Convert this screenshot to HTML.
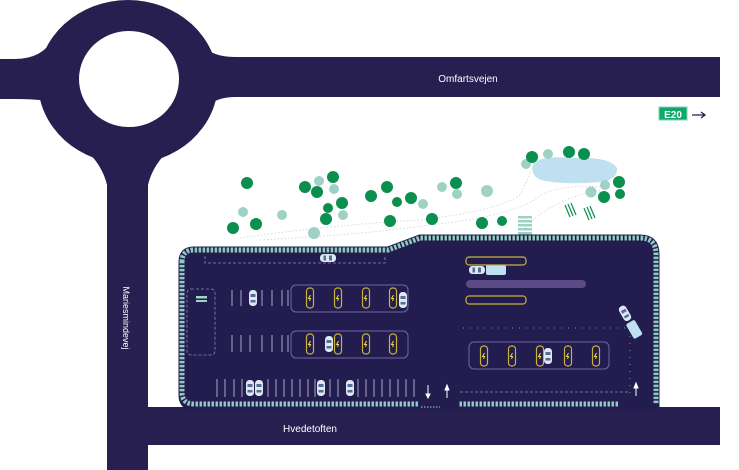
<!DOCTYPE html>
<html><head><meta charset="utf-8"><style>
html,body{margin:0;padding:0;background:#fff;width:739px;height:470px;overflow:hidden}
text{font-family:"Liberation Sans",sans-serif}
</style></head><body>
<svg width="739" height="470" viewBox="0 0 739 470" xmlns="http://www.w3.org/2000/svg">
<defs>
<pattern id="stv" width="4" height="4" patternUnits="userSpaceOnUse"><rect width="4" height="2.5" fill="#9fd2c6"/></pattern>
<g id="car"><rect x="-4" y="-8" width="8" height="16" rx="3.5" fill="#dbe9f3"/><rect x="-2.5" y="-4" width="5" height="3" fill="#5a6a90"/><rect x="-2.5" y="2" width="5" height="2.5" fill="#5a6a90"/></g>
<g id="chg"><rect x="-3.5" y="-10" width="7" height="20" rx="3" fill="none" stroke="#c9b13a" stroke-width="1.2"/><path d="M0.5,-3 L-1.5,0.5 H0.5 L-0.5,3" stroke="#f2dc3a" stroke-width="1" fill="none"/></g>
</defs>
<g fill="#261f50">
<rect x="0" y="59" width="60" height="40"/>
<rect x="190" y="57" width="530" height="40"/>
<rect x="107" y="150" width="41" height="320"/>
<rect x="107" y="407" width="613" height="38"/>
<ellipse cx="128" cy="82" rx="90" ry="82"/>
<path d="M15,59 Q42,59 54,38 L70,70 L60,105 Q50,99 15,99 Z"/>
<path d="M195,35 Q205,57 235,57 L235,97 Q205,97 195,125 Z"/>
<path d="M65,135 Q100,155 107,185 L148,185 Q155,155 190,135 Z"/>
</g>
<ellipse cx="129" cy="79" rx="50" ry="48" fill="#fff"/>
<text x="468" y="82" font-size="10" fill="#fff" text-anchor="middle">Omfartsvejen</text>
<text x="310" y="432" font-size="10" fill="#fff" text-anchor="middle">Hvedetoften</text>
<text transform="translate(123,318) rotate(90)" font-size="9" fill="#fff" text-anchor="middle">Mariesmindevej</text>
<rect x="659" y="107" width="28" height="13" fill="#10a86a" stroke="#7fd6b0" stroke-width="1"/>
<text x="673" y="118" font-size="10" font-weight="bold" fill="#fff" text-anchor="middle">E20</text>
<path d="M692,115 H704 M701,112 L705,115 L701,118" stroke="#261f50" stroke-width="1.3" fill="none"/>
<g stroke="#c8d3d8" stroke-width="0.8" stroke-dasharray="1.5 2" fill="none">
<path d="M240,238 Q330,225 420,220 Q500,210 520,195 Q530,175 535,160"/>
<path d="M260,240 Q360,235 430,225 Q520,215 540,195 Q570,182 610,188"/>
<path d="M525,228 Q550,200 600,190"/>
</g>
<path d="M533,165 Q540,155 570,158 Q610,156 617,168 Q618,180 600,182 Q570,185 545,181 Q530,178 533,165 Z" fill="#bfe0f0"/>
<g fill="#9fd2c6">
<circle cx="243" cy="212" r="5"/><circle cx="282" cy="215" r="5"/><circle cx="319" cy="181" r="5"/><circle cx="334" cy="189" r="5"/><circle cx="343" cy="215" r="5"/><circle cx="314" cy="233" r="6"/><circle cx="423" cy="204" r="5"/><circle cx="442" cy="187" r="5"/><circle cx="457" cy="194" r="5"/><circle cx="487" cy="191" r="6"/><circle cx="526" cy="164" r="5"/><circle cx="548" cy="154" r="5"/><circle cx="591" cy="192" r="5.5"/><circle cx="605" cy="185" r="5"/>
</g>
<g fill="#0a8f4f">
<circle cx="247" cy="183" r="6"/><circle cx="233" cy="228" r="6"/><circle cx="256" cy="224" r="6"/><circle cx="305" cy="187" r="6"/><circle cx="317" cy="192" r="6"/><circle cx="333" cy="177" r="6"/><circle cx="342" cy="203" r="6"/><circle cx="328" cy="208" r="5"/><circle cx="326" cy="219" r="6"/><circle cx="371" cy="196" r="6"/><circle cx="387" cy="187" r="6"/><circle cx="397" cy="202" r="5"/><circle cx="411" cy="198" r="6"/><circle cx="390" cy="221" r="6"/><circle cx="432" cy="219" r="6"/><circle cx="456" cy="183" r="6"/><circle cx="482" cy="223" r="6"/><circle cx="502" cy="221" r="5"/><circle cx="532" cy="157" r="6"/><circle cx="569" cy="152" r="6"/><circle cx="584" cy="154" r="6"/><circle cx="619" cy="182" r="6"/><circle cx="620" cy="194" r="5"/><circle cx="604" cy="197" r="6"/>
</g>
<g stroke="#0a8f4f" stroke-width="1.2"><path d="M565,205 L570,217 M568,204 L573,216 M571,203 L576,215"/><path d="M584,208 L589,220 M587,207 L592,219 M590,206 L595,218"/></g>
<rect x="518" y="215" width="14" height="25" fill="url(#stv)"/>
<path d="M182,262 Q182,250 194,250 L388,250 L420,238 L640,238 Q656,238 656,254 L656,407 L194,407 Q182,407 182,395 Z" fill="#231d4f"/>
<path d="M182,262 Q182,250 194,250 L388,250 L420,238 L640,238 Q656,238 656,254 L656,407 L194,407 Q182,407 182,395 Z" fill="none" stroke="#231d4f" stroke-width="7"/>
<path d="M182,262 Q182,250 194,250 L388,250 L420,238 L640,238 Q656,238 656,254 L656,404 M618,404 H194 Q182,404 182,392 V262" fill="none" stroke="#8fcabe" stroke-width="5" stroke-dasharray="2.5 1.5"/>
<rect x="418" y="400" width="40" height="10" fill="#231d4f"/>
<rect x="618" y="400" width="34" height="10" fill="#231d4f"/>
<path d="M421,407 H440" stroke="#9fd2c6" stroke-width="1" stroke-dasharray="1.5 1.5"/>
<g stroke="#8a88b8" stroke-width="0.8" fill="none" stroke-dasharray="3 2">
<path d="M205,256 V263 H385 V256"/>
<rect x="187" y="289" width="28" height="66" rx="4"/>
<path d="M460,392 H628"/>
</g>
<g stroke="#8a88b8" stroke-width="1" fill="none" stroke-dasharray="1 6">
<path d="M463,328 H630 V395"/>
</g>
<rect x="196" y="296" width="11" height="6" fill="url(#stv)"/>
<g stroke="#c9c8e0" stroke-width="0.8">
<path d="M232,290 V306 M241,290 V306 M262,290 V306 M272,290 V306 M282,290 V306 M288,290 V306"/>
<path d="M232,335 V352 M241,335 V352 M250,335 V352 M262,335 V352 M272,335 V352 M282,335 V352 M288,335 V352"/>
<path d="M217,379 V397 M225,379 V397 M234,379 V397 M242,379 V397 M268,379 V397 M276,379 V397 M284,379 V397 M292,379 V397 M300,379 V397 M308,379 V397 M315,379 V397 M330,379 V397 M338,379 V397 M358,379 V397 M366,379 V397 M374,379 V397 M382,379 V397 M390,379 V397 M398,379 V397 M406,379 V397 M414,379 V397"/>
</g>
<g fill="none" stroke="#6b68a8" stroke-width="1">
<rect x="291" y="285" width="117" height="27" rx="5"/>
<rect x="291" y="331" width="117" height="27" rx="5"/>
<rect x="469" y="342" width="140" height="27" rx="5"/>
</g>
<use href="#chg" x="310" y="298"/><use href="#chg" x="338" y="298"/><use href="#chg" x="366" y="298"/><use href="#chg" x="393" y="298"/>
<use href="#chg" x="310" y="344"/><use href="#chg" x="338" y="344"/><use href="#chg" x="366" y="344"/><use href="#chg" x="393" y="344"/>
<use href="#chg" x="484" y="356"/><use href="#chg" x="512" y="356"/><use href="#chg" x="540" y="356"/><use href="#chg" x="568" y="356"/><use href="#chg" x="596" y="356"/>
<use href="#car" x="253" y="298"/><use href="#car" x="403" y="300"/><use href="#car" x="329" y="344"/><use href="#car" x="548" y="356"/>
<use href="#car" x="250" y="388"/><use href="#car" x="259" y="388"/><use href="#car" x="321" y="388"/><use href="#car" x="350" y="388"/>
<use href="#car" transform="translate(328,258) rotate(90)"/>
<use href="#car" transform="translate(477,270) rotate(90)"/>
<rect x="486" y="265" width="20" height="10" rx="2" fill="#bfe0f0"/>
<g transform="translate(630,322) rotate(-30)"><use href="#car" x="0" y="-10"/><rect x="-5" y="0" width="10" height="17" rx="2" fill="#bfe0f0"/></g>
<rect x="466" y="257" width="60" height="8" rx="3" fill="none" stroke="#c9b13a" stroke-width="1.2"/>
<rect x="466" y="296" width="60" height="8" rx="3" fill="none" stroke="#c9b13a" stroke-width="1.2"/>
<rect x="466" y="280" width="120" height="8" rx="4" fill="#5b4a85"/>
<g stroke="#fff" stroke-width="1" fill="#fff">
<path d="M428,385 V397"/><path d="M426,394 L428,398 L430,394 Z"/>
<path d="M447,386 V398"/><path d="M445,390 L447,385 L449,390 Z"/>
<path d="M636,384 V396"/><path d="M634,388 L636,383 L638,388 Z"/>
</g>
</svg>
</body></html>
